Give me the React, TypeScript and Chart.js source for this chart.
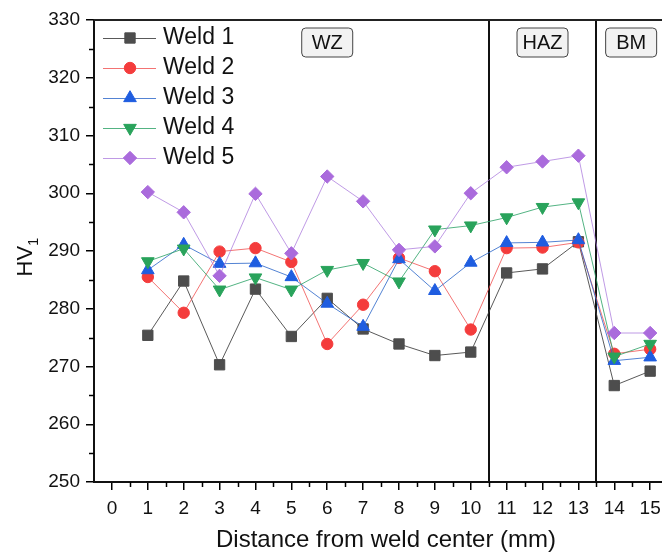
import React, { useEffect, useRef } from "react";
import { Chart, registerables } from "chart.js";

Chart.register(...registerables);

const positions = [1, 2, 3, 4, 5, 6, 7, 8, 9, 10, 11, 12, 13, 14, 15];
const xTickLabels = [0, 1, 2, 3, 4, 5, 6, 7, 8, 9, 10, 11, 12, 13, 14, 15];
const yTickLabels = [250, 260, 270, 280, 290, 300, 310, 320, 330];
const weld1 = [275.4, 284.8, 270.3, 283.4, 275.2, 281.8, 276.5, 273.9, 271.9, 272.5, 286.2, 286.9, 291.6, 266.7, 269.2];
const weld2 = [285.5, 279.3, 289.9, 290.5, 288.1, 273.9, 280.7, 288.8, 286.5, 276.4, 290.5, 290.6, 291.5, 272.2, 273.0];
const weld3 = [286.7, 291.1, 287.8, 287.9, 285.5, 280.9, 276.9, 288.6, 283.1, 288.0, 291.4, 291.5, 291.9, 271.0, 271.6];
const weld4 = [288.2, 290.4, 283.3, 285.4, 283.3, 286.7, 287.9, 284.7, 293.7, 294.4, 295.8, 297.6, 298.4, 271.7, 273.9];
const weld5 = [300.2, 296.7, 285.7, 299.9, 289.6, 302.9, 298.6, 290.2, 290.8, 300.0, 304.5, 305.5, 306.5, 275.8, 275.8];
const seriesNames = ["Weld 1", "Weld 2", "Weld 3", "Weld 4", "Weld 5"];
const zoneBoundaries = [10.5, 13.5];
const zoneLabels = ["WZ", "HAZ", "BM"];
const zoneLabelX = [6, 12, 14.47];

const FONT = "'Liberation Sans', Arial, sans-serif";

const styles = [
  { color: "#4d4d4d", line: "rgba(60,60,60,0.85)", point: "rect", r: 7.3, rot: 0 },
  { color: "#f43c3c", line: "rgba(240,80,80,0.8)", point: "circle", r: 5.7, rot: 0 },
  { color: "#1f5de0", line: "rgba(40,100,200,0.8)", point: "triangle", r: 7.3, rot: 0 },
  { color: "#29a35b", line: "rgba(40,160,100,0.8)", point: "triangle", r: 7.3, rot: 180 },
  { color: "#aa6bdc", line: "rgba(170,120,220,0.75)", point: "rectRot", r: 6.7, rot: 0 },
];

const allSeries = [weld1, weld2, weld3, weld4, weld5];

function drawMarker(ctx: CanvasRenderingContext2D, kind: string, r: number, rot: number, x: number, y: number) {
  ctx.beginPath();
  if (kind === "circle") {
    ctx.arc(x, y, r, 0, Math.PI * 2);
  } else if (kind === "rect") {
    const h = r * Math.SQRT1_2;
    ctx.rect(x - h, y - h, 2 * h, 2 * h);
  } else if (kind === "rectRot") {
    ctx.moveTo(x, y - r);
    ctx.lineTo(x + r, y);
    ctx.lineTo(x, y + r);
    ctx.lineTo(x - r, y);
    ctx.closePath();
  } else if (kind === "triangle") {
    const base = (rot * Math.PI) / 180;
    for (let k = 0; k < 3; k++) {
      const a = base + (k * 2 * Math.PI) / 3;
      const px = x + Math.sin(a) * r;
      const py = y - Math.cos(a) * r;
      if (k === 0) ctx.moveTo(px, py);
      else ctx.lineTo(px, py);
    }
    ctx.closePath();
  }
  ctx.fill();
  ctx.stroke();
}

const decorPlugin = {
  id: "decor",
  beforeDatasetsDraw(chart: any) {
    const { ctx, chartArea, scales } = chart;
    const xs = scales.x;
    ctx.save();
    ctx.strokeStyle = "#111";
    ctx.lineWidth = 2;
    zoneBoundaries.forEach((b) => {
      const px = Math.round(xs.getPixelForValue(b));
      ctx.beginPath();
      ctx.moveTo(px, chartArea.top);
      ctx.lineTo(px, chartArea.bottom);
      ctx.stroke();
    });
    ctx.restore();
  },
  afterDatasetsDraw(chart: any) {
    const { ctx, chartArea, scales } = chart;
    const xs = scales.x;
    const ys = scales.y;
    ctx.save();
    ctx.strokeStyle = "#222";
    ctx.lineWidth = 2;
    ctx.beginPath();
    ctx.moveTo(chartArea.left, chartArea.top);
    ctx.lineTo(chart.width, chartArea.top);
    ctx.stroke();
    ctx.lineWidth = 1.5;
    ctx.strokeStyle = "#000";
    for (let v = 255; v < 330; v += 10) {
      const py = Math.round(ys.getPixelForValue(v)) + 0.5;
      ctx.beginPath();
      ctx.moveTo(chartArea.left - 5, py);
      ctx.lineTo(chartArea.left, py);
      ctx.stroke();
    }
    for (let v = 0.5; v < 15.3; v += 1) {
      const px = Math.round(xs.getPixelForValue(v)) + 0.5;
      ctx.beginPath();
      ctx.moveTo(px, chartArea.bottom);
      ctx.lineTo(px, chartArea.bottom + 5);
      ctx.stroke();
    }
    ctx.font = `20px ${FONT}`;
    ctx.textAlign = "center";
    ctx.textBaseline = "middle";
    zoneLabels.forEach((t, i) => {
      const cx = xs.getPixelForValue(zoneLabelX[i]);
      const w = Math.max(ctx.measureText(t).width + 10, 51);
      const h = 29;
      const x0 = cx - w / 2;
      const y0 = 28;
      ctx.beginPath();
      ctx.roundRect(x0, y0, w, h, 4);
      ctx.fillStyle = "#f2f2f2";
      ctx.fill();
      ctx.strokeStyle = "#444";
      ctx.lineWidth = 1;
      ctx.stroke();
      ctx.fillStyle = "#111";
      ctx.fillText(t, cx, y0 + h / 2 + 1);
    });
    ctx.textAlign = "left";
    ctx.font = `23px ${FONT}`;
    seriesNames.forEach((name, i) => {
      const st = styles[i];
      const yy = 38 + i * 30;
      ctx.strokeStyle = st.line;
      ctx.lineWidth = 1;
      ctx.beginPath();
      ctx.moveTo(103, yy + 0.5);
      ctx.lineTo(156, yy + 0.5);
      ctx.stroke();
      ctx.fillStyle = st.color;
      ctx.strokeStyle = st.color;
      drawMarker(ctx, st.point, st.r, st.rot, 130, yy);
      ctx.fillStyle = "#111";
      ctx.fillText(name, 163, yy);
    });
    ctx.fillStyle = "#111";
    ctx.font = `24px ${FONT}`;
    ctx.textAlign = "center";
    ctx.textBaseline = "alphabetic";
    ctx.fillText("Distance from weld center (mm)", 386, 547);
    ctx.save();
    ctx.translate(32, 257);
    ctx.rotate(-Math.PI / 2);
    ctx.font = `22px ${FONT}`;
    ctx.textAlign = "left";
    const hvW = ctx.measureText("HV").width;
    ctx.font = `15px ${FONT}`;
    const oneW = ctx.measureText("1").width;
    const startX = -(hvW + oneW) / 2;
    ctx.font = `22px ${FONT}`;
    ctx.fillText("HV", startX, 0);
    ctx.font = `15px ${FONT}`;
    ctx.fillText("1", startX + hvW, 6);
    ctx.restore();
    ctx.restore();
  },
};

export default function App() {
  const ref = useRef<HTMLCanvasElement | null>(null);
  useEffect(() => {
    document.body.style.margin = "0";
    const canvas = ref.current!;
    const chart = new Chart(canvas, {
      type: "line",
      data: {
        datasets: allSeries.map((vals, i) => ({
          label: seriesNames[i],
          data: vals.map((v, j) => ({ x: positions[j], y: v })),
          order: allSeries.length - i,
          borderColor: styles[i].line,
          borderWidth: 1,
          backgroundColor: styles[i].color,
          pointBackgroundColor: styles[i].color,
          pointBorderColor: styles[i].color,
          pointBorderWidth: 1,
          pointStyle: styles[i].point as any,
          pointRadius: styles[i].r,
          pointRotation: styles[i].rot,
          tension: 0,
          clip: false as any,
        })),
      },
      options: {
        animation: false,
        responsive: false,
        maintainAspectRatio: false,
        layout: { autoPadding: false, padding: { top: 20, right: 0, left: 0, bottom: 0 } },
        plugins: { legend: { display: false }, tooltip: { enabled: false } },
        scales: {
          x: {
            type: "linear",
            min: -0.5,
            max: 15.33,
            afterBuildTicks: (s: any) => {
              s.ticks = xTickLabels.map((v) => ({ value: v }));
            },
            afterFit: (s: any) => {
              s.height = 72;
              s.paddingLeft = 0;
              s.paddingRight = 0;
            },
            ticks: {
              color: "#111",
              font: { family: FONT, size: 19 },
              padding: 7,
              maxRotation: 0,
              autoSkip: false,
              callback: (v: any) => String(v),
            },
            grid: { drawOnChartArea: false, drawTicks: true, tickLength: 8, color: "#000", lineWidth: 1.5 },
            border: { display: true, color: "#111", width: 2 },
          },
          y: {
            type: "linear",
            min: 250,
            max: 330,
            afterBuildTicks: (s: any) => {
              s.ticks = yTickLabels.map((v) => ({ value: v }));
            },
            afterFit: (s: any) => {
              s.width = 94;
              s.paddingTop = 0;
              s.paddingBottom = 0;
            },
            ticks: {
              color: "#111",
              font: { family: FONT, size: 19 },
              padding: 6,
              autoSkip: false,
              callback: (v: any) => String(v),
            },
            grid: { drawOnChartArea: false, drawTicks: true, tickLength: 8, color: "#000", lineWidth: 1.5 },
            border: { display: true, color: "#111", width: 2 },
          },
        },
      },
      plugins: [decorPlugin],
    });
    return () => chart.destroy();
  }, []);
  return (
    <div style={{ position: "absolute", left: 0, top: 0, width: 662, height: 554, background: "#fff" }}>
      <canvas ref={ref} width={662} height={554} style={{ width: 662, height: 554, display: "block" }} />
    </div>
  );
}
